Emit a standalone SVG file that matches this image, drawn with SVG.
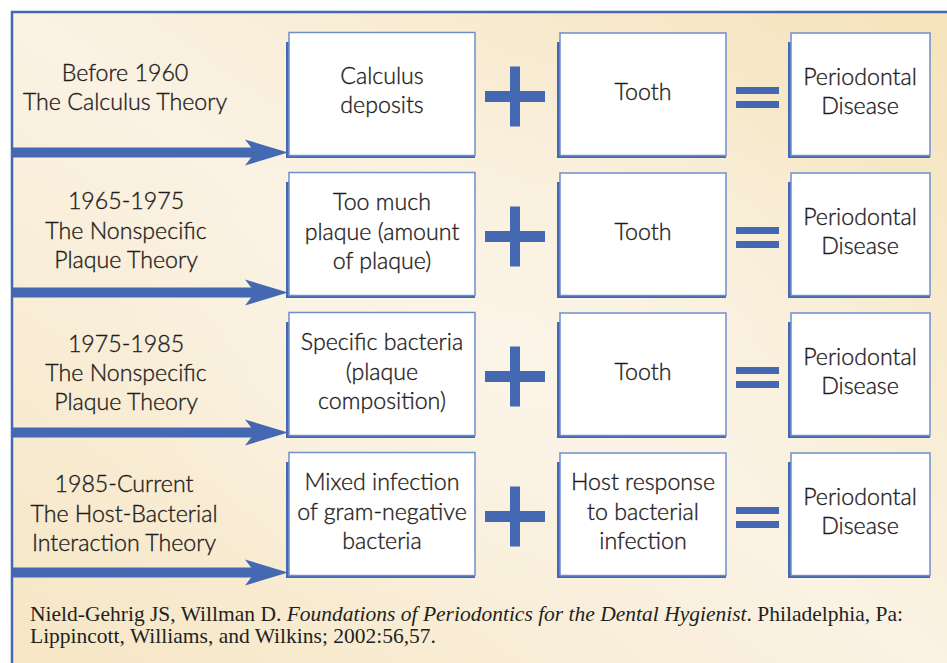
<svg xmlns="http://www.w3.org/2000/svg" width="947" height="663" viewBox="0 0 947 663">
<defs>
<linearGradient id="bg" x1="1" y1="0" x2="0" y2="1">
<stop offset="0" stop-color="#f5e3bb"/>
<stop offset="0.5" stop-color="#faf2e3"/>
<stop offset="1" stop-color="#f6e6c4"/>
</linearGradient>
<radialGradient id="glow" cx="0.55" cy="0.5" r="0.45">
<stop offset="0" stop-color="#fbf5ea" stop-opacity="0.7"/>
<stop offset="1" stop-color="#fbf5ea" stop-opacity="0"/>
</radialGradient>
<g id="arrow">
<rect x="12" y="-5" width="245" height="10"/>
<polygon points="245,-13 288,0 245,13 255,0"/>
</g>
<g id="plus"><rect x="485" y="-5.5" width="60" height="11"/><rect x="510" y="-30" width="10" height="60"/></g>
<g id="eq"><rect x="736" y="-9" width="43" height="7"/><rect x="736" y="5" width="43" height="7"/></g>
</defs>
<style>
.lbl{font-family:"Lato","Open Sans","DejaVu Sans",sans-serif;font-size:23.2px;font-weight:300;fill:#1f1b1c;stroke:#1f1b1c;stroke-width:0.35;text-anchor:middle}
.box{fill:#ffffff;stroke:#6f8fcb;stroke-width:1.5}
.sh{fill:#4468b1}
.blue{fill:#4468b1}
.cite{font-family:"Liberation Serif","Times New Roman",serif;font-size:21.5px;fill:#231f20}
</style>
<rect x="0" y="0" width="947" height="663" fill="#ffffff"/>
<rect x="12" y="12" width="940" height="660" fill="url(#bg)"/>
<rect x="12" y="12" width="940" height="660" fill="url(#glow)"/>
<path d="M12,663 V12 H947" fill="none" stroke="#4468b1" stroke-width="2.5"/>

<g id="labels">
<g id="era1"><text class="lbl" x="125" y="81">Before 1960</text><text class="lbl" x="125" y="110">The Calculus Theory</text></g>
<g id="era2"><text class="lbl" x="126" y="209">1965-1975</text><text class="lbl" x="126" y="239">The Nonspecific</text><text class="lbl" x="126" y="268">Plaque Theory</text></g>
<g id="era3"><text class="lbl" x="126" y="352">1975-1985</text><text class="lbl" x="126" y="381">The Nonspecific</text><text class="lbl" x="126" y="410">Plaque Theory</text></g>
<g id="era4"><text class="lbl" x="124" y="492">1985-Current</text><text class="lbl" x="124" y="522">The Host-Bacterial</text><text class="lbl" x="124" y="551">Interaction Theory</text></g>
</g>

<g id="connectors" class="blue">
<use href="#arrow" y="152.5"/>
<use href="#arrow" y="292.5"/>
<use href="#arrow" y="432.5"/>
<use href="#arrow" y="572.5"/>
</g>

<g id="operators" class="blue">
<use href="#plus" y="96.5"/><use href="#eq" y="96"/>
<use href="#plus" y="236.5"/><use href="#eq" y="236"/>
<use href="#plus" y="376.5"/><use href="#eq" y="376"/>
<use href="#plus" y="516.5"/><use href="#eq" y="516"/>
</g>

<!-- Row 1 -->
<g id="r1a"><path class="sh" d="M286,42h3v113h186v3h-189z"/><rect class="box" x="289" y="32.5" width="186" height="123"/>
<text class="lbl" x="382" y="84">Calculus</text><text class="lbl" x="382" y="113">deposits</text></g>
<g id="r1b"><path class="sh" d="M557,42h3v113h166v3h-169z"/><rect class="box" x="560" y="33" width="166" height="122.5"/>
<text class="lbl" x="643" y="99.5">Tooth</text></g>
<g id="r1c"><path class="sh" d="M788,42h3v113h139v3h-142z"/><rect class="box" x="791" y="33" width="139" height="122.5"/>
<text class="lbl" x="860" y="85">Periodontal</text><text class="lbl" x="860" y="114">Disease</text></g>

<!-- Row 2 -->
<g id="r2a"><path class="sh" d="M286,182h3v113h186v3h-189z"/><rect class="box" x="289" y="172.5" width="186" height="123"/>
<text class="lbl" x="382" y="210">Too much</text><text class="lbl" x="382" y="239.5">plaque (amount</text><text class="lbl" x="382" y="269">of plaque)</text></g>
<g id="r2b"><path class="sh" d="M557,182h3v113h166v3h-169z"/><rect class="box" x="560" y="173" width="166" height="122.5"/>
<text class="lbl" x="643" y="239.5">Tooth</text></g>
<g id="r2c"><path class="sh" d="M788,182h3v113h139v3h-142z"/><rect class="box" x="791" y="173" width="139" height="122.5"/>
<text class="lbl" x="860" y="225">Periodontal</text><text class="lbl" x="860" y="254">Disease</text></g>

<!-- Row 3 -->
<g id="r3a"><path class="sh" d="M286,322h3v113h186v3h-189z"/><rect class="box" x="289" y="312.5" width="186" height="123"/>
<text class="lbl" x="382" y="350">Specific bacteria</text><text class="lbl" x="382" y="379.5">(plaque</text><text class="lbl" x="382" y="409">composition)</text></g>
<g id="r3b"><path class="sh" d="M557,322h3v113h166v3h-169z"/><rect class="box" x="560" y="313" width="166" height="122.5"/>
<text class="lbl" x="643" y="379.5">Tooth</text></g>
<g id="r3c"><path class="sh" d="M788,322h3v113h139v3h-142z"/><rect class="box" x="791" y="313" width="139" height="122.5"/>
<text class="lbl" x="860" y="365">Periodontal</text><text class="lbl" x="860" y="394">Disease</text></g>

<!-- Row 4 -->
<g id="r4a"><path class="sh" d="M286,462h3v113h186v3h-189z"/><rect class="box" x="289" y="452.5" width="186" height="123"/>
<text class="lbl" x="382" y="490">Mixed infection</text><text class="lbl" x="382" y="519.5">of gram-negative</text><text class="lbl" x="382" y="549">bacteria</text></g>
<g id="r4b"><path class="sh" d="M557,462h3v113h166v3h-169z"/><rect class="box" x="560" y="453" width="166" height="122.5"/>
<text class="lbl" x="643" y="490">Host response</text><text class="lbl" x="643" y="519.5">to bacterial</text><text class="lbl" x="643" y="549">infection</text></g>
<g id="r4c"><path class="sh" d="M788,462h3v113h139v3h-142z"/><rect class="box" x="791" y="453" width="139" height="122.5"/>
<text class="lbl" x="860" y="505">Periodontal</text><text class="lbl" x="860" y="534">Disease</text></g>

<g id="citation">
<text class="cite" x="30" y="621">Nield-Gehrig JS, Willman D. <tspan font-style="italic">Foundations of Periodontics for the Dental Hygienist</tspan>. Philadelphia, Pa:</text>
<text class="cite" x="30" y="643">Lippincott, Williams, and Wilkins; 2002:56,57.</text>
</g>
</svg>
